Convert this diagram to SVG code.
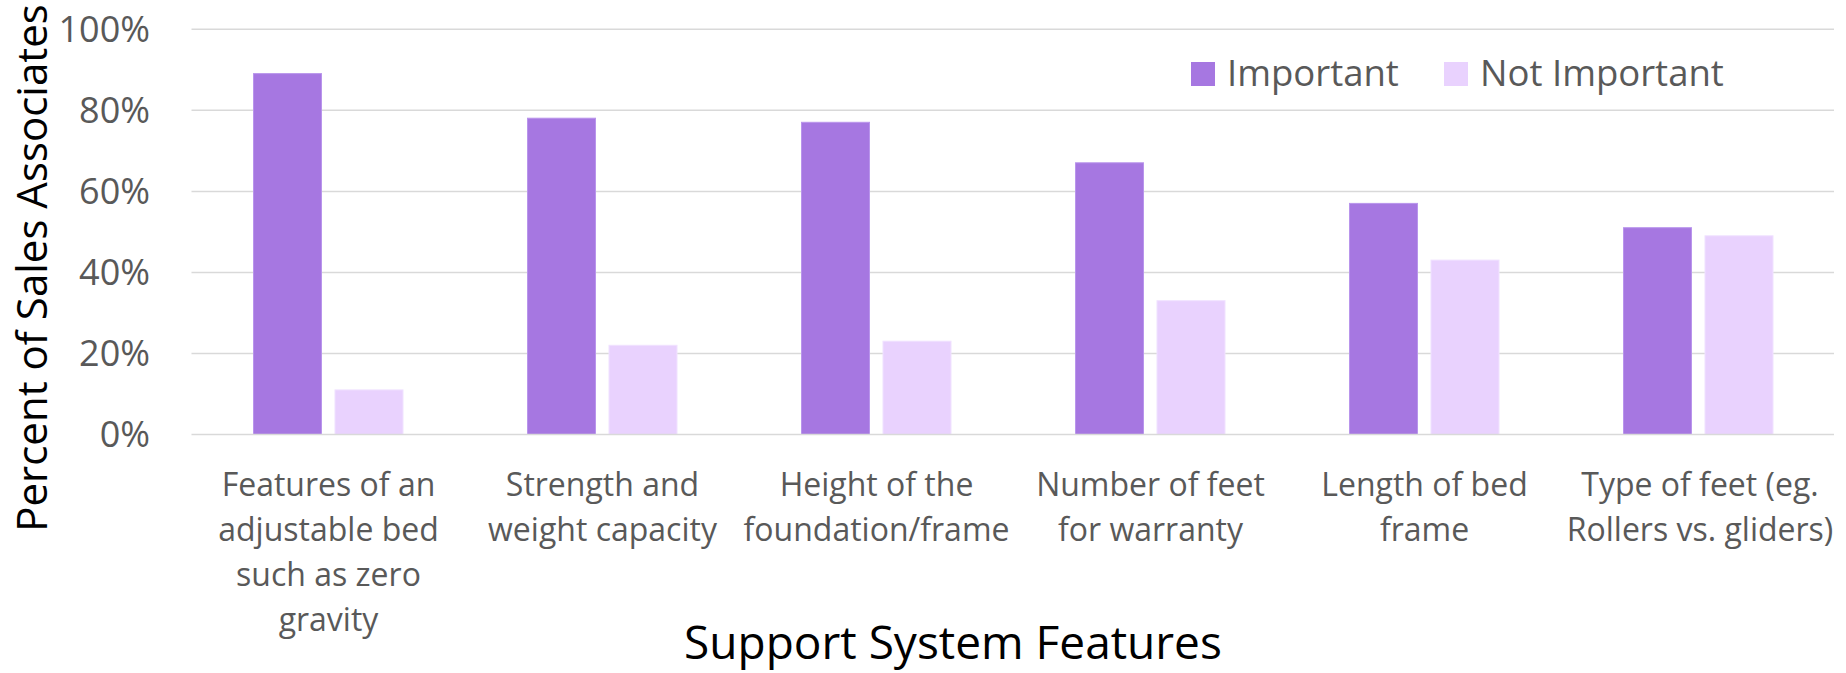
<svg xmlns="http://www.w3.org/2000/svg" width="1846" height="673" viewBox="0 0 1846 673">
<style>
.grid{stroke:#D9D9D9;stroke-width:1.5}
.imp{fill:#A677E1;stroke:#B995EC;stroke-width:1}
.ni{fill:#E9D2FE;stroke:#F0E2FF;stroke-width:1}
.tick{font-family:"Open Sans",sans-serif;font-size:36px;fill:#595959;text-anchor:end}
.cat{font-family:"Open Sans",sans-serif;font-size:32px;fill:#595959;text-anchor:middle}
.leg{font-family:"Open Sans",sans-serif;font-size:36.5px;fill:#595959}
.title{font-family:"Open Sans",sans-serif;font-size:42px;fill:#000;text-anchor:middle}
.xtitle{font-family:"Open Sans",sans-serif;font-size:46px;fill:#000;text-anchor:middle}
</style>
<rect width="1846" height="673" fill="#fff"/>
<g id="gridlines">
<line class="grid" x1="191.5" y1="29.3" x2="1834" y2="29.3"/>
<line class="grid" x1="191.5" y1="110.3" x2="1834" y2="110.3"/>
<line class="grid" x1="191.5" y1="191.4" x2="1834" y2="191.4"/>
<line class="grid" x1="191.5" y1="272.5" x2="1834" y2="272.5"/>
<line class="grid" x1="191.5" y1="353.6" x2="1834" y2="353.6"/>
</g>
<g id="y-axis">
<text class="tick" x="150" y="42">100%</text>
<text class="tick" x="150" y="123">80%</text>
<text class="tick" x="150" y="204">60%</text>
<text class="tick" x="150" y="285">40%</text>
<text class="tick" x="150" y="366">20%</text>
<text class="tick" x="150" y="447">0%</text>
<text class="title" transform="translate(47,268) rotate(-90)">Percent of Sales Associates</text>
</g>
<g id="bars">
<rect class="imp" x="253.5" y="73.6" width="68" height="360.9"/>
<rect class="ni" x="335" y="389.9" width="68" height="44.6"/>
<rect class="imp" x="527.5" y="118.2" width="68" height="316.3"/>
<rect class="ni" x="609" y="345.3" width="68" height="89.2"/>
<rect class="imp" x="801.5" y="122.3" width="68" height="312.2"/>
<rect class="ni" x="883" y="341.2" width="68" height="93.3"/>
<rect class="imp" x="1075.5" y="162.8" width="68" height="271.7"/>
<rect class="ni" x="1157" y="300.7" width="68" height="133.8"/>
<rect class="imp" x="1349.5" y="203.4" width="68" height="231.1"/>
<rect class="ni" x="1431" y="260.1" width="68" height="174.4"/>
<rect class="imp" x="1623.5" y="227.7" width="68" height="206.8"/>
<rect class="ni" x="1705" y="235.8" width="68" height="198.7"/>
</g>
<line class="grid" x1="191.5" y1="434.5" x2="1834" y2="434.5"/>
<g id="x-axis">
<text class="cat" x="328.5" y="495.5"><tspan x="328.5">Features of an</tspan><tspan x="328.5" dy="45.2">adjustable bed</tspan><tspan x="328.5" dy="45.2">such as zero</tspan><tspan x="328.5" dy="45.2">gravity</tspan></text>
<text class="cat" x="602.5" y="495.5"><tspan x="602.5">Strength and</tspan><tspan x="602.5" dy="45.2">weight capacity</tspan></text>
<text class="cat" x="876.5" y="495.5"><tspan x="876.5">Height of the</tspan><tspan x="876.5" dy="45.2">foundation/frame</tspan></text>
<text class="cat" x="1150.5" y="495.5"><tspan x="1150.5">Number of feet</tspan><tspan x="1150.5" dy="45.2">for warranty</tspan></text>
<text class="cat" x="1424.5" y="495.5"><tspan x="1424.5">Length of bed</tspan><tspan x="1424.5" dy="45.2">frame</tspan></text>
<text class="cat" x="1700" y="495.5"><tspan x="1700">Type of feet (eg.</tspan><tspan x="1700" dy="45.2">Rollers vs. gliders)</tspan></text>
<text class="xtitle" x="953" y="659">Support System Features</text>
</g>
<g id="legend">
<rect x="1191" y="62" width="24" height="24" fill="#A677E1"/>
<text class="leg" x="1227" y="86">Important</text>
<rect x="1444" y="62" width="24" height="24" fill="#E9D2FE"/>
<text class="leg" x="1480" y="86">Not Important</text>
</g>
</svg>
